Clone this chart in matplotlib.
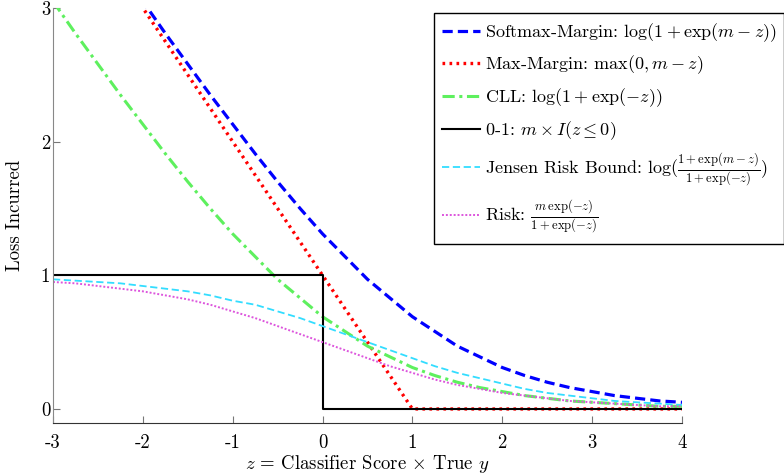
import matplotlib
matplotlib.use("Agg")
import matplotlib.pyplot as plt

z = [-3.0, -2.75, -2.5, -2.25, -2.0, -1.75, -1.5, -1.25, -1.0, -0.75, -0.5, -0.25,
     0.0, 0.25, 0.5, 0.75, 1.0, 1.25, 1.5, 1.75, 2.0, 2.25, 2.5, 2.75,
     3.0, 3.25, 3.5, 3.75, 4.0]

softmax_margin = [4.02, 3.77, 3.53, 3.29, 3.05, 2.81, 2.58, 2.35, 2.13, 1.91, 1.70, 1.50,
                  1.31, 1.14, 0.97, 0.83, 0.69, 0.58, 0.47, 0.39, 0.31, 0.25, 0.20, 0.16,
                  0.13, 0.10, 0.08, 0.06, 0.05]

cll = [3.05, 2.81, 2.58, 2.35, 2.13, 1.91, 1.70, 1.50, 1.31, 1.14, 0.97, 0.83,
       0.69, 0.58, 0.47, 0.39, 0.31, 0.25, 0.20, 0.16, 0.13, 0.10, 0.08, 0.06,
       0.05, 0.04, 0.03, 0.02, 0.02]

jensen = [0.97, 0.96, 0.95, 0.94, 0.92, 0.90, 0.88, 0.85, 0.81, 0.78, 0.73, 0.68,
          0.62, 0.56, 0.50, 0.44, 0.38, 0.32, 0.27, 0.23, 0.19, 0.15, 0.12, 0.10,
          0.08, 0.06, 0.05, 0.04, 0.03]

risk = [0.95, 0.94, 0.92, 0.90, 0.88, 0.85, 0.82, 0.78, 0.73, 0.68, 0.62, 0.56,
        0.50, 0.44, 0.38, 0.32, 0.27, 0.22, 0.18, 0.15, 0.12, 0.10, 0.08, 0.06,
        0.05, 0.04, 0.03, 0.02, 0.02]

# piecewise linear ones: corner points
maxmargin_z = [-3.0, 1.0, 4.0]
maxmargin = [4.0, 0.0, 0.0]
zero_one_z = [-3.0, 0.0, 0.0, 4.0]
zero_one = [1.0, 1.0, 0.0, 0.0]

xticks = [-3, -2, -1, 0, 1, 2, 3, 4]
yticks = [0, 1, 2, 3]

labels = [
    r"Softmax-Margin: $\log(1+\exp(m-z))$",
    r"Max-Margin: $\max(0,m-z)$",
    r"CLL: $\log(1+\exp(-z))$",
    r"0-1: $m\times I(z\leq 0)$",
    r"Jensen Risk Bound: $\log(\frac{1+\exp(m-z)}{1+\exp(-z)})$",
    r"Risk: $\frac{m\,\exp(-z)}{1+\exp(-z)}$",
]

plt.rcParams['font.family'] = ['cmr10', 'DejaVu Serif']
plt.rcParams['mathtext.fontset'] = 'cm'
plt.rcParams['axes.unicode_minus'] = False
plt.rcParams['axes.formatter.use_mathtext'] = True

fig = plt.figure(figsize=(7.84, 4.74), dpi=100)
ax = fig.add_axes([53 / 784, 1 - 423 / 474, 629 / 784, 415 / 474])

ax.plot(z, softmax_margin, color='#0000ff', lw=2.3, ls=(0, (3.2, 1.6)), label=labels[0])
ax.plot(maxmargin_z, maxmargin, color='#ff0000', lw=2.4, ls=(0, (0.8, 1.3)), label=labels[1])
ax.plot(z, cll, color='#5ef05e', lw=2.2, ls=(0, (4, 1.5, 1, 1.5)), label=labels[2])
ax.plot(zero_one_z, zero_one, color='black', lw=1.5, label=labels[3])
ax.plot(z, jensen, color='#33ddff', lw=1.3, ls=(0, (4, 2)), label=labels[4])
ax.plot(z, risk, color='#dd55dd', lw=1.4, ls=(0, (1, 1)), label=labels[5])

ax.set_xlim(-3, 4)
ax.set_ylim(-0.105, 3)
ax.set_xticks(xticks)
ax.set_xticklabels([str(t) for t in xticks])
ax.set_yticks(yticks)
ax.set_yticklabels([str(t) for t in yticks])
ax.tick_params(direction='in', length=5, width=0.8, colors='#777777', labelcolor='black',
               labelsize=13.5)
ax.tick_params(axis='x', pad=8)
ax.tick_params(axis='y', pad=2)

ax.spines['top'].set_visible(False)
ax.spines['right'].set_visible(False)
ax.spines['left'].set_color('#888888')
ax.spines['bottom'].set_color('#333333')

ax.set_xlabel(r"$z$ = Classifier Score $\times$ True $y$", fontsize=13.5, labelpad=1)
ax.set_ylabel("Loss Incurred", fontsize=13.5, labelpad=12)

leg = fig.legend(loc='upper left', bbox_to_anchor=(434 / 784, 1 - 13 / 474),
                 fontsize=13, frameon=True, fancybox=False, framealpha=1,
                 edgecolor='black', borderaxespad=0, handlelength=2.1,
                 handletextpad=0.25, labelspacing=0.55, borderpad=0.45)
leg.get_frame().set_linewidth(1.0)

fig.savefig("out.png", dpi=100)
